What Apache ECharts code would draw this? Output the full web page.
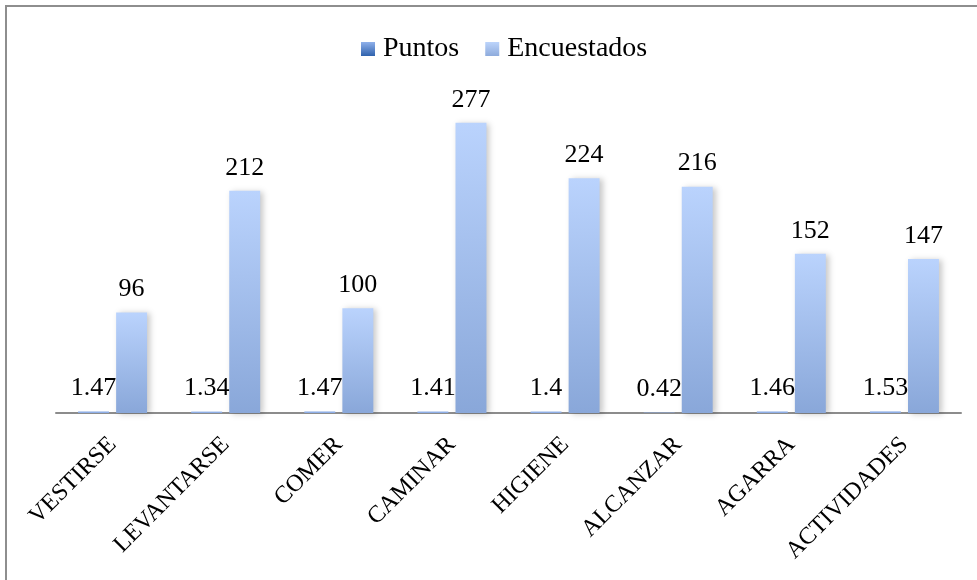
<!DOCTYPE html>
<html>
<head>
<meta charset="utf-8">
<script src="https://cdn.jsdelivr.net/npm/echarts@6/dist/echarts.min.js"></script>
<style>
  html, body { margin: 0; padding: 0; background: #fff; }
  #frame { position: absolute; left: 5px; top: 5px; width: 990px; height: 600px;
           border-left: 2px solid #8e8e8e; border-top: 2px solid #8e8e8e; }
  #chart { position: absolute; left: 0; top: 0; width: 977px; height: 580px; }
</style>
</head>
<body>
<div id="frame"></div>
<div id="chart"></div>
<script>
const categories = ['VESTIRSE', 'LEVANTARSE', 'COMER', 'CAMINAR', 'HIGIENE', 'ALCANZAR', 'AGARRA', 'ACTIVIDADES'];
const puntos = [1.47, 1.34, 1.47, 1.41, 1.4, 0.42, 1.46, 1.53];
const encuestados = [96, 212, 100, 277, 224, 216, 152, 147];
const seriesNames = ['Puntos', 'Encuestados'];

const FONT = '"Liberation Serif", "DejaVu Serif", serif';

function grad(top, bottom) {
  return new echarts.graphic.LinearGradient(0, 0, 0, 1, [
    { offset: 0, color: top }, { offset: 1, color: bottom }
  ]);
}

const chart = echarts.init(document.getElementById('chart'));
chart.setOption({
  animation: false,
  legend: {
    top: 30,
    left: 356,
    itemWidth: 14,
    itemHeight: 14,
    itemGap: 26,
    textStyle: { fontFamily: FONT, fontSize: 28, color: '#000', padding: [0, 0, 0, 3] },
    data: [
      { name: seriesNames[0], icon: 'rect', itemStyle: { color: grad('#8fb0ea', '#2f62ad') } },
      { name: seriesNames[1], icon: 'rect', itemStyle: { color: grad('#bcd4fb', '#8eabdc') } }
    ]
  },
  grid: { left: 56, right: 16, top: 98.6, bottom: 167 },
  xAxis: {
    type: 'category',
    data: categories,
    axisLine: { lineStyle: { color: '#8c8c8c', width: 2 } },
    axisTick: { show: false },
    axisLabel: { rotate: 45, interval: 0, margin: 28, fontFamily: FONT, fontSize: 24, color: '#000' }
  },
  yAxis: {
    type: 'value', min: 0, max: 300, show: false,
    splitLine: { show: false }
  },
  series: [
    {
      name: seriesNames[0], type: 'bar', data: puntos,
      barGap: '23%', barCategoryGap: '39%',
      itemStyle: { color: '#8eaee6' },
      label: { show: true, position: 'top', distance: 10, fontFamily: FONT, fontSize: 26, color: '#000' }
    },
    {
      name: seriesNames[1], type: 'bar', data: encuestados,
      itemStyle: {
        color: grad('#bad3fd', '#89a7d9'),
        shadowColor: 'rgba(0,0,0,0.22)', shadowBlur: 6, shadowOffsetX: 3, shadowOffsetY: 1
      },
      label: { show: true, position: 'top', distance: 10, fontFamily: FONT, fontSize: 26, color: '#000' }
    }
  ]
});
</script>
</body>
</html>
